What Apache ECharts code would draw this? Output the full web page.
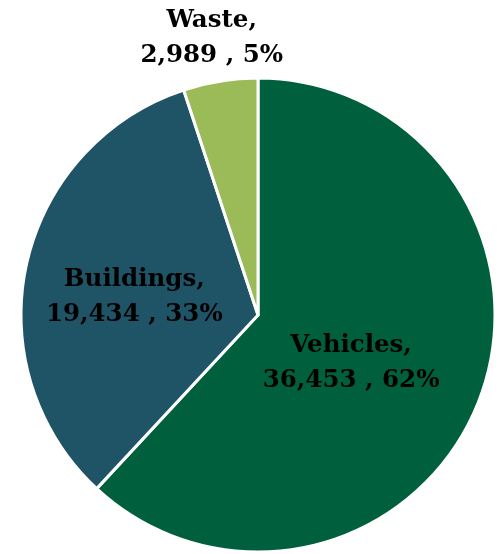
<!DOCTYPE html>
<html>
<head>
<meta charset="utf-8">
<script src="https://cdn.jsdelivr.net/npm/echarts@6/dist/echarts.min.js"></script>
<style>html,body{margin:0;padding:0;background:#fff;}#c{width:503px;height:554px;}</style>
</head>
<body>
<div id="c"></div>
<script>
var categories = ['Vehicles', 'Buildings', 'Waste'];
var values = [36453, 19434, 2989];
var colors = ['#005F3C', '#1F5466', '#9BBB59'];

var total = values.reduce(function (a, b) { return a + b; }, 0);
function fmt(n) { return n.toString().replace(/\B(?=(\d{3})+(?!\d))/g, ','); }

var labelOffsets = { Vehicles: [-20, 4], Buildings: [-5, 8], Waste: [-27, -157] };

var data = categories.map(function (c, i) {
  return {
    name: c,
    value: values[i],
    itemStyle: { color: colors[i] },
    label: { offset: labelOffsets[c] }
  };
});

var chart = echarts.init(document.getElementById('c'));
chart.setOption({
  animation: false,
  series: [{
    type: 'pie',
    center: [258, 315],
    radius: [0, 237],
    startAngle: 90,
    clockwise: true,
    itemStyle: { borderColor: '#ffffff', borderWidth: 3 },
    label: {
      show: true,
      position: 'inside',
      color: '#000000',
      fontFamily: 'DejaVu Serif',
      fontWeight: 'bold',
      fontSize: 24.5,
      lineHeight: 35,
      align: 'center',
      formatter: function (p) {
        return p.name + ',\n' + fmt(p.value) + ' , ' + Math.round(p.value / total * 100) + '%';
      }
    },
    labelLine: { show: false },
    data: data
  }]
});
</script>
</body>
</html>
